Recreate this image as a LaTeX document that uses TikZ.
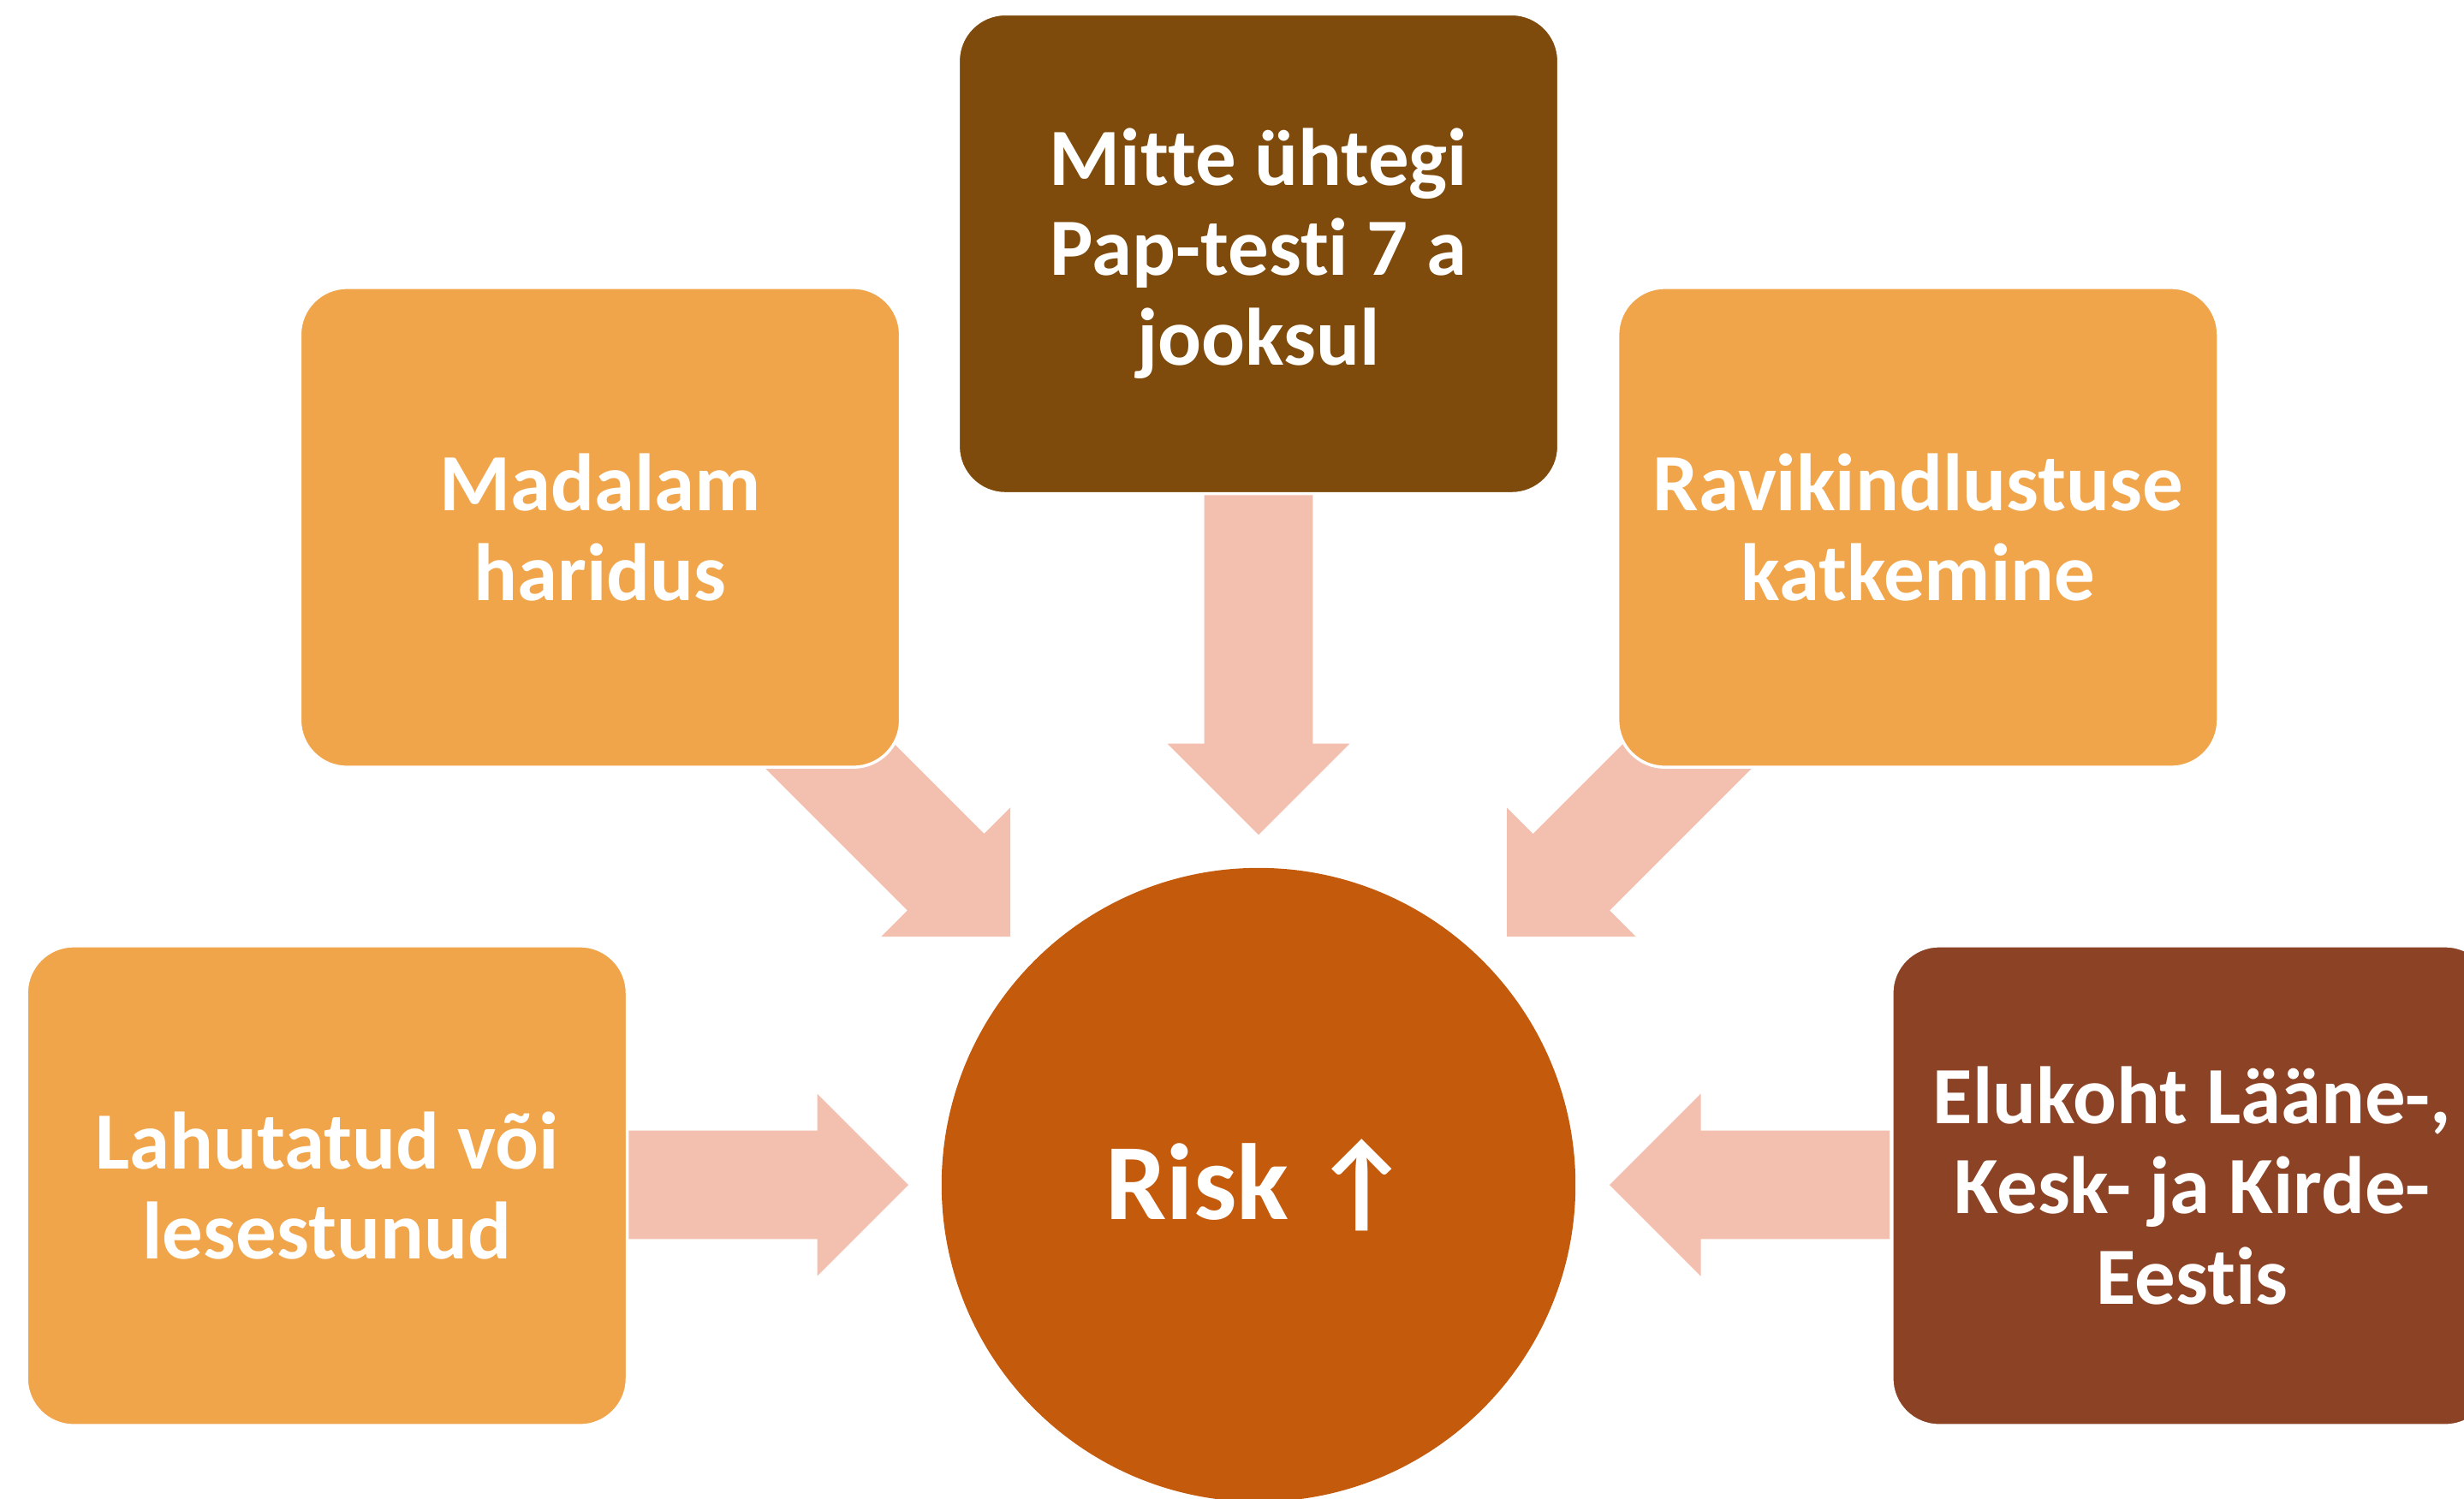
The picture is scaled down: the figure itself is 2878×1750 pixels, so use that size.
\documentclass[tikz,border=0pt]{standalone}
\usepackage{fontspec}
\setmainfont{Carlito}[Ligatures=CommonOff]
\usetikzlibrary{calc}
\definecolor{boxorange}{HTML}{F0A54B}
\definecolor{boxbrown}{HTML}{7F4B0C}
\definecolor{boxrust}{HTML}{8C4224}
\definecolor{riskfill}{HTML}{C45A0B}
\definecolor{arrowfill}{HTML}{F3BFAE}
\tikzset{
  factor/.style={rectangle, rounded corners=0.55cm, minimum width=7.01cm, minimum height=5.6cm,
    draw=white, line width=1pt, text=white, align=center,
    font=\bfseries\fontsize{27}{29.9}\selectfont},
  riskcircle/.style={circle, fill=riskfill, minimum size=7.4cm, inner sep=0pt, text=white,
    font=\bfseries\fontsize{36}{40}\selectfont},
  pics/barrow/.style={code={
    \fill[arrowfill] (0,0) -- (-106.5,106.5) -- (-106.5,63.3) -- (-#1,63.3) -- (-#1,-63.3)
      -- (-106.5,-63.3) -- (-106.5,-106.5) -- cycle;}}
}
\begin{document}
\begin{tikzpicture}[x=0.01cm,y=0.01cm]
\useasboundingbox (0,0) rectangle (2878,-1750);
\clip (0,0) rectangle (2878,-1750);
% centre
\node[riskcircle] (risk) at (1470,-1384) {Risk ↑};
% arrow tips
\coordinate (tipL) at ($(risk.center)+(-409,0)$);
\coordinate (tipR) at ($(risk.center)+(410,0)$);
\coordinate (tipT) at ($(risk.center)+(0,409)$);
\coordinate (tipNW) at ($(risk.center)+(-290,290)$);
\coordinate (tipNE) at ($(risk.center)+(290,290)$);
\pic at (tipL) {barrow=327};
\pic[rotate=180] at (tipR) {barrow=327};
\pic[rotate=-90] at (tipT) {barrow=400};
\pic[rotate=-45] at (tipNW) {barrow=400};
\pic[rotate=-135] at (tipNE) {barrow=400};
% boxes
\node[factor, fill=boxorange] (lahut) at (381.8,-1385) {Lahutatud või\\lesestunud};
\node[factor, fill=boxorange] (madal) at (701,-616) {Madalam\\haridus};
\node[factor, fill=boxbrown] (pap) at (1470,-296.4) {Mitte ühtegi\\Pap-testi 7 a\\jooksul};
\node[factor, fill=boxorange] (ravi) at (2240.3,-616) {Ravikindlustuse\\katkemine};
\node[factor, fill=boxrust] (elu) at (2560.5,-1385) {Elukoht Lääne-,\\Kesk- ja Kirde-\\Eestis};
\end{tikzpicture}
\end{document}
